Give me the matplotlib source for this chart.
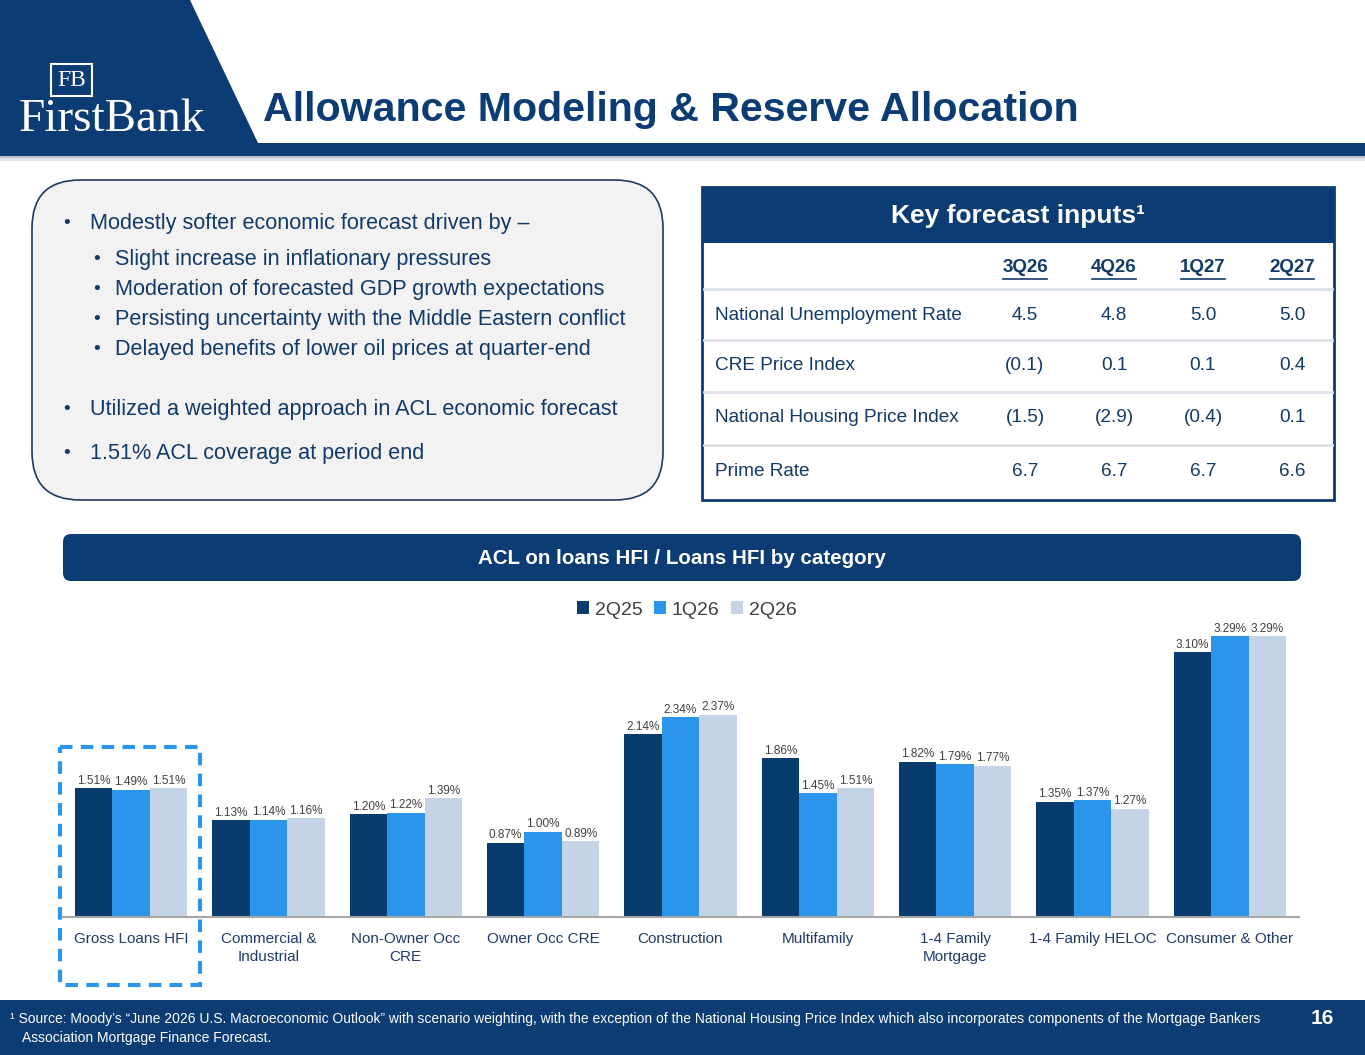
import numpy as np
import matplotlib.pyplot as plt
from matplotlib.patches import Polygon, Rectangle, FancyBboxPatch

plt.rcParams['font.family'] = ['Liberation Sans', 'DejaVu Sans']

# chart data
categories = ['Gross Loans HFI', 'Commercial &\nIndustrial', 'Non-Owner Occ\nCRE', 'Owner Occ CRE',
              'Construction', 'Multifamily', '1-4 Family\nMortgage', '1-4 Family HELOC', 'Consumer & Other']
series_names = ['2Q25', '1Q26', '2Q26']
acl_2q25 = [1.51, 1.13, 1.20, 0.87, 2.14, 1.86, 1.82, 1.35, 3.10]
acl_1q26 = [1.49, 1.14, 1.22, 1.00, 2.34, 1.45, 1.79, 1.37, 3.29]
acl_2q26 = [1.51, 1.16, 1.39, 0.89, 2.37, 1.51, 1.77, 1.27, 3.29]

# table data
periods = ['3Q26', '4Q26', '1Q27', '2Q27']
indicators = ['National Unemployment Rate', 'CRE Price Index', 'National Housing Price Index', 'Prime Rate']
unemployment = ['4.5', '4.8', '5.0', '5.0']
cre_index = ['(0.1)', '0.1', '0.1', '0.4']
housing_index = ['(1.5)', '(2.9)', '(0.4)', '0.1']
prime_rate = ['6.7', '6.7', '6.7', '6.6']

bullets = [
    (0, 'Modestly softer economic forecast driven by \u2013'),
    (1, 'Slight increase in inflationary pressures'),
    (1, 'Moderation of forecasted GDP growth expectations'),
    (1, 'Persisting uncertainty with the Middle Eastern conflict'),
    (1, 'Delayed benefits of lower oil prices at quarter-end'),
    (0, 'Utilized a weighted approach in ACL economic forecast'),
    (0, '1.51% ACL coverage at period end'),
]

NAVY = '#0B3C74'
TXT = '#123A68'
C1, C2, C3 = '#083B6E', '#2A95EA', '#C4D3E5'

W, H = 1365, 1055
fig = plt.figure(figsize=(W / 100, H / 100), dpi=100)
bg = fig.add_axes([0, 0, 1, 1])
bg.set_xlim(0, W)
bg.set_ylim(H, 0)
bg.axis('off')

# header
bg.add_patch(Polygon([(0, 0), (190, 0), (258, 143), (0, 143)], closed=True, color=NAVY, lw=0))
bg.add_patch(Rectangle((0, 143), W, 13, color=NAVY, lw=0))
bg.add_patch(Rectangle((0, 156), W, 2, color='#B8C0CC', lw=0))
bg.add_patch(Rectangle((0, 158), W, 3, color='#E2E6EB', lw=0))
bg.add_patch(Rectangle((51, 64), 41, 32, facecolor=NAVY, edgecolor='white', lw=1.5))
bg.text(71.5, 80, 'FB', color='white', fontsize=17, family='Liberation Serif',
        ha='center', va='center')
bg.text(112, 131, 'FirstBank', color='white', fontsize=34, family='Liberation Serif',
        ha='center', va='baseline')
bg.text(263, 110, 'Allowance Modeling & Reserve Allocation', color=NAVY, fontsize=29.6,
        fontweight='bold', ha='left', va='center')

# bullet box
bg.add_patch(FancyBboxPatch((32, 180), 631, 320, boxstyle='round,pad=0,rounding_size=48',
                            facecolor='#F2F2F2', edgecolor='#1E3A5F', lw=1.2))
ys = [223, 260, 290, 319, 349, 409, 454]
for (lvl, txt), y in zip(bullets, ys):
    bx = 63 if lvl == 0 else 93
    tx = 90 if lvl == 0 else 115
    bg.text(bx, y, '\u2022', color=TXT, fontsize=14, ha='left', va='center')
    bg.text(tx, y, txt, color=TXT, fontsize=15.6, ha='left', va='center')

# table
bg.add_patch(Rectangle((702, 187), 632, 56, color=NAVY, lw=0))
bg.text(1018, 216, 'Key forecast inputs\u00b9', color='white', fontsize=19, fontweight='bold',
        ha='center', va='center')
col_x = [1025, 1114, 1203, 1292]
for cx, p in zip(col_x, periods):
    bg.text(cx, 268, p, color=TXT, fontsize=13.5, fontweight='bold', ha='center', va='center')
    bg.plot([cx - 22, cx + 22], [279, 279], color=TXT, lw=1.2)
rows = [unemployment, cre_index, housing_index, prime_rate]
row_y = [315, 366, 418, 472]
for ly in [289, 340, 392, 445]:
    bg.plot([704, 1332], [ly, ly], color='#DCE1E8', lw=2)
for label, vals, y in zip(indicators, rows, row_y):
    bg.text(715, y, label, color=TXT, fontsize=13.7, ha='left', va='center')
    for cx, v in zip(col_x, vals):
        bg.text(cx, y, v, color=TXT, fontsize=13.7, ha='center', va='center')
bg.add_patch(Rectangle((702, 187), 632, 313, facecolor='none', edgecolor=NAVY, lw=2))

# section bar
bg.add_patch(FancyBboxPatch((63, 534), 1238, 47, boxstyle='round,pad=0,rounding_size=8',
                            facecolor=NAVY, edgecolor='none'))
bg.text(682, 558, 'ACL on loans HFI / Loans HFI by category', color='white', fontsize=14.8,
        fontweight='bold', ha='center', va='center')

# dashed highlight
bg.add_patch(Rectangle((60, 747), 140, 238, facecolor='none', edgecolor='#2A95EA',
                       lw=3, linestyle=(0, (3, 2))))

# footer
bg.add_patch(Rectangle((0, 1000), W, 55, color=NAVY, lw=0))
bg.text(10, 1019, '\u00b9 Source: Moody\u2019s \u201cJune 2026 U.S. Macroeconomic Outlook\u201d with scenario '
        'weighting, with the exception of the National Housing Price Index which also incorporates '
        'components of the Mortgage Bankers', color='white', fontsize=10,
        ha='left', va='center')
bg.text(22, 1038, 'Association Mortgage Finance Forecast.', color='white', fontsize=10,
        ha='left', va='center')
bg.text(1322, 1019, '16', color='white', fontsize=15, fontweight='bold', ha='center', va='center')

# bar chart
ax = fig.add_axes([62.4 / W, 1 - 917 / H, 1236.2 / W, 299 / H])
ax.set_facecolor('none')
x = np.arange(len(categories))
bw = 0.273
for off, vals, col, name in zip([-bw, 0, bw], [acl_2q25, acl_1q26, acl_2q26], [C1, C2, C3], series_names):
    bars = ax.bar(x + off, vals, bw, color=col, label=name)
    ax.bar_label(bars, labels=[f'{v:.2f}%' for v in vals], padding=1, fontsize=8.5, color='#404040')
ax.set_xlim(-0.5, len(categories) - 0.5)
ax.set_ylim(0, 3.5)
ax.set_yticks([])
ax.set_xticks(x)
ax.set_xticklabels(categories, fontsize=11, color='#1F3B66', linespacing=1.3)
ax.tick_params(axis='x', length=0, pad=11)
for s in ['top', 'left', 'right']:
    ax.spines[s].set_visible(False)
ax.spines['bottom'].set_color('#A6A6A6')
ax.spines['bottom'].set_linewidth(1.5)
ax.legend(loc='center', bbox_to_anchor=(687 / W, 1 - 610 / H), bbox_transform=fig.transFigure,
          ncol=3, frameon=False, fontsize=14, handlelength=0.6, handleheight=0.6,
          handletextpad=0.3, columnspacing=0.6, labelcolor='#404040')

fig.savefig('out.png', dpi=100)
